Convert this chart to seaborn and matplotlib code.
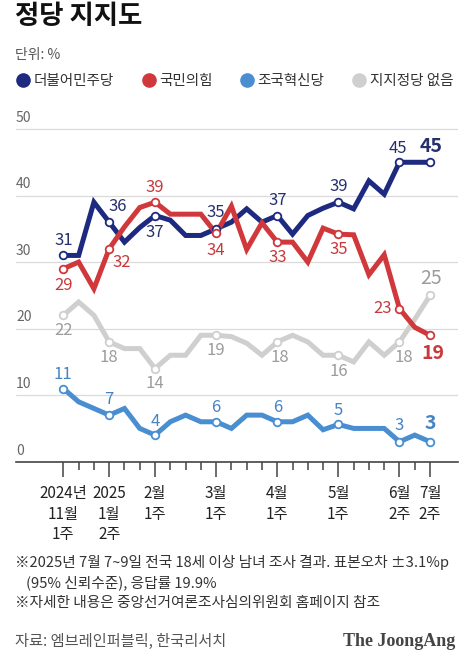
import numpy as np
import pandas as pd
import matplotlib
matplotlib.use("Agg")
import matplotlib.pyplot as plt
from matplotlib.lines import Line2D
import matplotlib.transforms as mtransforms
import seaborn as sns

# survey rounds (biweekly), 2024-11 1st week .. 2025-07 2nd week
n_rounds = 25
tick_idx = [0, 3, 6, 10, 14, 18, 22, 24]
tick_labels = ["2024년\n11월\n1주", "2025\n1월\n2주", "2월\n1주", "3월\n1주",
               "4월\n1주", "5월\n1주", "6월\n2주", "7월\n2주"]

parties = ["지지정당 없음", "조국혁신당", "더불어민주당", "국민의힘"]
minjoo = [31, 31, 39, 36, 33, 35.2, 37, 36.3, 34, 34, 35, 36, 38, 36, 37, 34.2,
          37, 38.1, 39, 38, 42.2, 40.2, 45, 45, 45]
ppp = [29, 30, 26, 32, 35.3, 38.2, 39, 37.2, 37.2, 37.2, 34.3, 38.4, 31.9, 35.9,
       33, 33, 30, 35.1, 34.2, 34.1, 28.1, 31.1, 23, 20.2, 19]
rebuild = [11, 9, 8, 7, 8, 5, 4, 6, 7, 6, 6, 5, 7, 7, 6, 6, 7, 4.8, 5.6, 5, 5, 5,
           3, 4, 3]
none = [22, 24, 22, 18, 17, 17, 14, 16, 16, 19, 19, 18.8, 17.8, 16, 18, 19, 18,
        16, 16, 15, 18, 16, 18, 21.4, 25]

# labels shown at the marked rounds
minjoo_lbl = ["31", "36", "37", "35", "37", "39", "45", "45"]
ppp_lbl = ["29", "32", "39", "34", "33", "35", "23", "19"]
rebuild_lbl = ["11", "7", "4", "6", "6", "5", "3", "3"]
none_lbl = ["22", "18", "14", "19", "18", "16", "18", "25"]

y_ticks = [0, 10, 20, 30, 40, 50]

line_col = {"더불어민주당": "#1d2a80", "국민의힘": "#d0383b",
            "조국혁신당": "#4a8ed2", "지지정당 없음": "#cfcfcf"}
text_col = {"더불어민주당": "#27306e", "국민의힘": "#c8393b",
            "조국혁신당": "#4683c2", "지지정당 없음": "#9c9c9c"}

df = pd.DataFrame({"round": list(range(n_rounds)) * 4,
                   "party": np.repeat(["더불어민주당", "국민의힘", "조국혁신당", "지지정당 없음"], n_rounds),
                   "value": minjoo + ppp + rebuild + none})

sns.set_theme(style="white")
plt.rcParams["font.family"] = ["Noto Sans CJK KR", "DejaVu Sans"]

fig = plt.figure(figsize=(4.66, 6.56), dpi=100)
ax = fig.add_axes([16 / 466, 1 - 461.7 / 656, 442 / 466, (461.7 - 115.7) / 656])

for p in parties:
    sub = df[df["party"] == p]
    sns.lineplot(data=sub, x="round", y="value", color=line_col[p], lw=3.6,
                 ax=ax, zorder=3, solid_joinstyle="miter", solid_capstyle="butt")
    mk = sub[sub["round"].isin(tick_idx)]
    sns.scatterplot(data=mk, x="round", y="value", s=30, color="white",
                    edgecolor=line_col[p], linewidth=1.3, ax=ax, zorder=4)

ax.set_xlim(-3.1, 25.83)
ax.set_ylim(0, 52)

# gridlines + y labels above them
for yv in y_ticks[1:]:
    ax.axhline(yv, color="#dadada", lw=0.9, zorder=1)
ylab_tr = mtransforms.blended_transform_factory(ax.transAxes, ax.transData) + \
    mtransforms.ScaledTranslation(0, 3 / 72, fig.dpi_scale_trans)
for yv in y_ticks:
    ax.text(0.0, yv, str(yv), transform=ylab_tr,
            ha="left", va="bottom", fontsize=10, color="#666666")

for s in ["left", "right", "top"]:
    ax.spines[s].set_visible(False)
ax.spines["bottom"].set_color("#444444")
ax.spines["bottom"].set_linewidth(1.2)
ax.set_yticks([])
ax.set_xticks(tick_idx)
ax.set_xticklabels(tick_labels, fontsize=11, color="#222222", linespacing=1.25, va="top")
ax.set_xticks(range(n_rounds), minor=True)
ax.tick_params(axis="x", which="major", direction="out", length=11, width=1.1,
               color="#444444", pad=6, bottom=True)
ax.tick_params(axis="x", which="minor", direction="out", length=6, width=1.1,
               color="#444444", bottom=True)
ax.set_xlabel("")
ax.set_ylabel("")
ax.grid(False)

# value labels
offsets = {
    "더불어민주당": [(0, 11), (6, 11), (0, -12), (0, 12), (0, 11), (0, 11), (-1, 10), (1, 11)],
    "국민의힘": [(0, -12), (9, -10), (0, 10.5), (0, -12), (0, -11), (0, -11), (-12, 0), (2, -13)],
    "조국혁신당": [(0, 10), (0, 11.5), (0, 9.5), (0, 10), (0, 10), (0, 10), (0, 12), (0, 13)],
    "지지정당 없음": [(0, -11), (0, -11.5), (0, -11), (0, -11), (2, -11), (0, -12), (3, -11), (1, 12)],
}
series = {"더불어민주당": (minjoo, minjoo_lbl), "국민의힘": (ppp, ppp_lbl),
          "조국혁신당": (rebuild, rebuild_lbl), "지지정당 없음": (none, none_lbl)}
for p, (vals, lbls) in series.items():
    for k, (i, lab) in enumerate(zip(tick_idx, lbls)):
        last = i == tick_idx[-1]
        size = 14 if last else 12
        weight = "bold" if (last and p != "지지정당 없음") else "normal"
        ax.annotate(lab, (i, vals[i]), xytext=offsets[p][k], textcoords="offset points",
                    ha="center", va="center", fontsize=size, fontweight=weight,
                    color=text_col[p], zorder=5)

# title, unit, legend
fig.text(15 / 466, 1 - 17 / 656, "정당 지지도", fontsize=19, fontweight="bold",
         color="#111111", ha="left", va="center")
fig.text(15 / 466, 1 - 55 / 656, "단위: %", fontsize=10, color="#555555",
         ha="left", va="center")
handles = [Line2D([], [], marker="o", ls="none", markersize=9.5,
                  markerfacecolor=line_col[p], markeredgecolor=line_col[p], label=p)
           for p in ["더불어민주당", "국민의힘", "조국혁신당", "지지정당 없음"]]
fig.legend(handles=handles, loc="center left", bbox_to_anchor=(10 / 466, 1 - 81 / 656),
           ncol=4, frameon=False, fontsize=10.5, handlelength=0.8, handletextpad=0.3,
           columnspacing=2.0, borderpad=0, labelcolor="#333333")

# footnotes
fig.text(15 / 466, 1 - 563 / 656, "※2025년 7월 7~9일 전국 18세 이상 남녀 조사 결과. 표본오차 ±3.1%p",
         fontsize=10.6, color="#333333", ha="left", va="center")
fig.text(26 / 466, 1 - 583 / 656, "(95% 신뢰수준), 응답률 19.9%",
         fontsize=10.6, color="#333333", ha="left", va="center")
fig.text(15 / 466, 1 - 603 / 656, "※자세한 내용은 중앙선거여론조사심의위원회 홈페이지 참조",
         fontsize=10.6, color="#333333", ha="left", va="center")
fig.text(15 / 466, 1 - 641 / 656, "자료: 엠브레인퍼블릭, 한국리서치",
         fontsize=11, color="#555555", ha="left", va="center")
fig.text(455 / 466, 1 - 641 / 656, "The JoongAng", fontsize=13, fontweight="bold",
         family="Liberation Serif", color="#444444", ha="right", va="center")

fig.savefig("out.png", dpi=100, facecolor="white")
